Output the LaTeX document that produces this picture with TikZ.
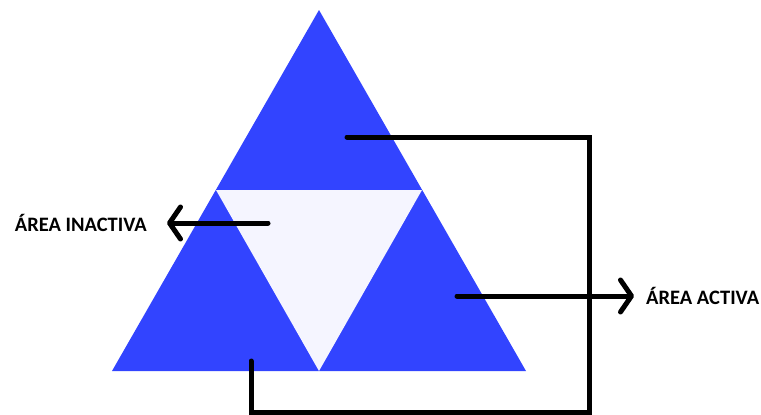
\documentclass[tikz,border=0pt]{standalone}
\usepackage{fontspec}
\setmainfont{Carlito}
\usetikzlibrary{arrows.meta}
\definecolor{triblue}{RGB}{50,68,255}
\definecolor{trilight}{RGB}{245,245,255}
\tikzset{
  conn/.style={line width=5pt, line cap=round, line join=miter, draw=black},
  barb/.style={-{Straight Barb[length=11pt,width=32pt,line cap=round,line join=round]}},
  lbl/.style={font=\bfseries\fontsize{20.5}{22}\selectfont, text=black, inner ysep=0pt}
}
\begin{document}
\begin{tikzpicture}[x=1pt,y=-1pt]
\useasboundingbox (0,0) rectangle (761,415);
% triangles
\fill[triblue] (319,10) -- (526,371) -- (112,371) -- cycle;
\fill[trilight] (216,190) -- (422,190) -- (319,371) -- cycle;
% coordinates
\coordinate (topstart) at (347,137);
\coordinate (tr) at (589,137);
\coordinate (br) at (589,412.5);
\coordinate (bl) at (251,412.5);
\coordinate (botend) at (251,361);
\coordinate (instart) at (268,223);
\coordinate (actstart) at (457,296);
% labels
\node[lbl, anchor=east, inner xsep=20pt] (inact) at (167,223) {ÁREA INACTIVA};
\node[lbl, anchor=west, inner xsep=12pt] (act) at (634,296) {ÁREA ACTIVA};
% connectors
\draw[conn] (topstart) -- (tr) -- (br) -- (bl) -- (botend);
\draw[conn, barb] (instart) -- (inact.east);
\draw[conn, barb] (actstart) -- (act.west);
\end{tikzpicture}
\end{document}
